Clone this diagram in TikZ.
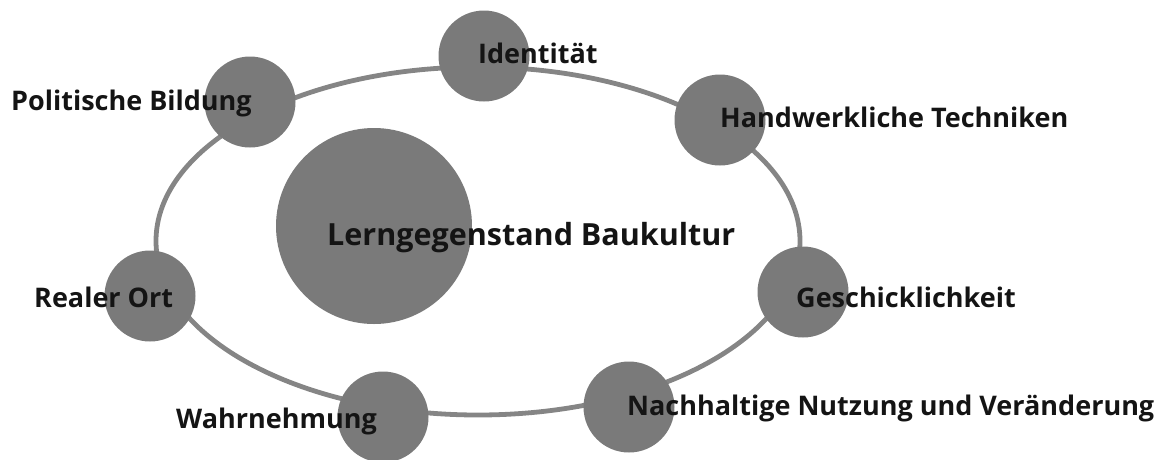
\documentclass[tikz,border=0pt]{standalone}
\usepackage{fontspec}
\setmainfont{Open Sans}
\definecolor{dotgray}{HTML}{7A7A7A}
\definecolor{ringgray}{HTML}{858585}

\begin{document}
\begin{tikzpicture}[x=1pt,y=-1pt,
  topic/.style={circle,fill=dotgray,minimum size=91pt,inner sep=0pt},
  lbl/.style={anchor=base west,inner sep=0pt,text=black!92,
    font=\fontsize{27}{30}\selectfont\bfseries}]
\useasboundingbox (0,0) rectangle (1173,459);

% ring
\draw[ringgray,line width=4.8pt] (478,241) ellipse [x radius=322, y radius=174];

% circles
\node[topic] (ident) at (484,56) {};
\node[topic] (polit) at (250,102) {};
\node[topic] (handw) at (720,120) {};
\node[topic,minimum size=196pt] (baukultur) at (374,226) {};
\node[topic] (realort) at (150,296) {};
\node[topic] (geschick) at (803,292) {};
\node[topic] (nachh) at (629,407) {};
\node[topic] (wahrn) at (383,417) {};

% labels
\node[lbl] (identL) at (478,63) {Identität};
\node[lbl] (politL) at (11,110) {Politische Bildung};
\node[lbl] (handwL) at (720,127) {Handwerkliche Techniken};
\node[lbl,font=\fontsize{30.5}{33}\selectfont\bfseries] (baukulturL) at (327,245) {Lerngegenstand Baukultur};
\node[lbl] (realortL) at (34,307) {Realer Ort};
\node[lbl] (geschickL) at (796,307) {Geschicklichkeit};
\node[lbl] (nachhL) at (627,415) {Nachhaltige Nutzung und Veränderung};
\node[lbl] (wahrnL) at (176,428) {Wahrnehmung};
\end{tikzpicture}
\end{document}
